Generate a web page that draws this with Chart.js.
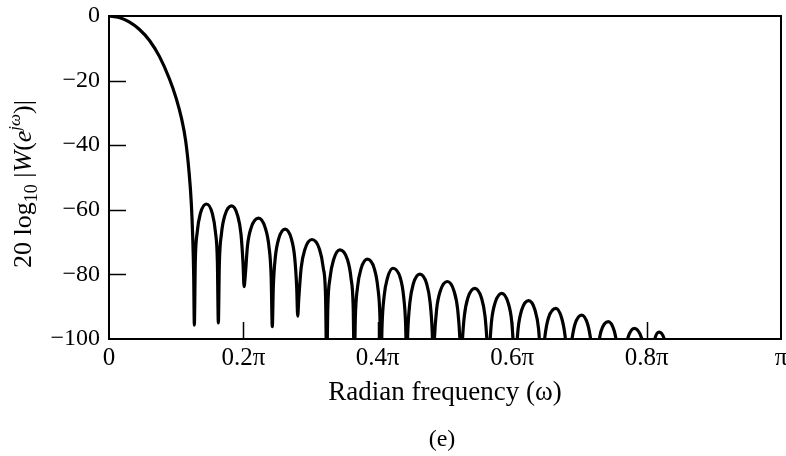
<!DOCTYPE html>
<html>
<head>
<meta charset="utf-8">
<script src="https://cdn.jsdelivr.net/npm/chart.js@4.4.1/dist/chart.umd.min.js"></script>
<style>
  html, body { margin: 0; padding: 0; background: #fff; }
</style>
</head>
<body>
<canvas id="chart" width="786" height="456"></canvas>
<script>
// frequency in units of pi, magnitude in dB (lobe by lobe)
const omega = [
  0, 0.015, 0.03, 0.045, 0.06, 0.075, 0.09, 0.1, 0.108, 0.114, 0.119, 0.1225, 0.1245, 0.126, 0.127,
  0.1284, 0.1313, 0.1359, 0.145, 0.1538, 0.1584, 0.1613, 0.1627,
  0.1642, 0.1673, 0.1723, 0.1825, 0.1914, 0.1964, 0.1995, 0.201,
  0.2027, 0.206, 0.2115, 0.2225, 0.2325, 0.238, 0.2413, 0.243,
  0.2445, 0.2475, 0.2525, 0.262, 0.2714, 0.2763, 0.2793, 0.2808,
  0.2825, 0.286, 0.2916, 0.302, 0.3132, 0.3188, 0.3223, 0.324,
  0.3256, 0.3289, 0.3343, 0.3435, 0.3548, 0.3601, 0.3634, 0.365,
  0.3666, 0.3698, 0.375, 0.3845, 0.3949, 0.4, 0.4032, 0.4048,
  0.4063, 0.4094, 0.4144, 0.4225, 0.4335, 0.4384, 0.4415, 0.443,
  0.4446, 0.4478, 0.4529, 0.4625, 0.4727, 0.4778, 0.481, 0.4826,
  0.4842, 0.4875, 0.4929, 0.5035, 0.5135, 0.5189, 0.5222, 0.5238,
  0.5254, 0.5287, 0.534, 0.5443, 0.5543, 0.5596, 0.5629, 0.5645,
  0.5661, 0.5692, 0.5744, 0.5845, 0.5941, 0.5993, 0.6024, 0.604,
  0.6056, 0.6088, 0.614, 0.6245, 0.634, 0.6392, 0.6424, 0.644,
  0.6487, 0.6539, 0.665, 0.6736, 0.6788, 0.6835,
  0.6881, 0.6932, 0.7034, 0.7125, 0.7176, 0.7222,
  0.727, 0.7322, 0.743, 0.752, 0.7572, 0.762,
  0.7669, 0.7721, 0.7817, 0.7924, 0.7976, 0.8025,
  0.8065, 0.8109, 0.8185, 0.8276, 0.832, 0.836
];
const magDb = [
  0, -0.45, -1.8, -4.1, -7.5, -12.5, -19.5, -25.5, -31.8, -38.5, -48.0, -58.0, -68.0, -80.0, -95.7,
  -76.2, -66.9, -61.2, -58.2, -61.2, -66.9, -76.2, -95.0,
  -76.8, -67.5, -61.8, -58.8, -61.8, -67.5, -76.8, -83.8,
  -80.6, -71.3, -65.6, -62.6, -65.6, -71.3, -80.6, -96.2,
  -84.0, -74.7, -69.0, -66.0, -69.0, -74.7, -84.0, -92.9,
  -87.2, -77.9, -72.2, -69.2, -72.2, -77.9, -87.2, -110,
  -90.4, -81.1, -75.4, -72.4, -75.4, -81.1, -90.4, -110,
  -93.3, -84.0, -78.3, -75.3, -78.3, -84.0, -93.3, -110,
  -96.1, -86.8, -81.1, -78.1, -81.1, -86.8, -96.1, -110,
  -97.9, -88.6, -82.9, -79.9, -82.9, -88.6, -97.9, -110,
  -100.2, -90.9, -85.2, -82.2, -85.2, -90.9, -100.2, -110,
  -102.3, -93.0, -87.3, -84.3, -87.3, -93.0, -102.3, -110,
  -103.9, -94.6, -88.9, -85.9, -88.9, -94.6, -103.9, -110,
  -106.1, -96.8, -91.1, -88.1, -91.1, -96.8, -106.1, -110,
  -99.2, -93.5, -90.5, -93.5, -99.2, -110,
  -101.3, -95.6, -92.6, -95.6, -101.3, -110,
  -103.3, -97.6, -94.6, -97.6, -103.3, -110,
  -105.4, -99.7, -96.7, -99.7, -105.4, -110,
  -106.6, -100.9, -97.9, -100.9, -106.6, -110
];

const xTickValues = [0, 0.2, 0.4, 0.6, 0.8, 1];
const xTickLabels = ['0', '0.2\u03c0', '0.4\u03c0', '0.6\u03c0', '0.8\u03c0', '\u03c0'];
const yTickValues = [0, -20, -40, -60, -80, -100];
const yTickLabels = ['0', '\u221220', '\u221240', '\u221260', '\u221280', '\u2212100'];
const xTitle = 'Radian frequency (\u03c9)';
const panelLabel = '(e)';

const serif = '"Liberation Serif", "DejaVu Serif", serif';

// box, inward ticks, y title with sub/superscripts, panel label
const extras = {
  id: 'extras',
  afterDatasetsDraw(chart) {
    const { ctx, chartArea: a, scales: { x, y } } = chart;
    ctx.save();
    ctx.strokeStyle = '#000';
    ctx.lineWidth = 2;
    ctx.strokeRect(a.left, a.top, a.right - a.left, a.bottom - a.top);

    ctx.lineWidth = 1.5;
    ctx.beginPath();
    yTickValues.forEach(v => {
      if (v < 0 && v > -100) {
        const py = Math.round(y.getPixelForValue(v)) + 0.5;
        ctx.moveTo(a.left, py);
        ctx.lineTo(a.left + 17, py);
      }
    });
    xTickValues.forEach(v => {
      if (v > 0 && v < 1) {
        const px = Math.round(x.getPixelForValue(v)) + 0.5;
        ctx.moveTo(px, a.bottom);
        ctx.lineTo(px, a.bottom - 17);
      }
    });
    ctx.stroke();

    ctx.fillStyle = '#000';
    ctx.font = '24px ' + serif;
    ctx.textAlign = 'center';
    ctx.textBaseline = 'middle';
    ctx.fillText(panelLabel, 442, 440);

    // y axis title
    const parts = [
      { t: '20 log', f: '26px ' + serif, dy: 0 },
      { t: '10', f: '18px ' + serif, dy: 6 },
      { t: ' |', f: '26px ' + serif, dy: 0 },
      { t: 'W', f: 'italic 26px ' + serif, dy: 0 },
      { t: '(', f: '26px ' + serif, dy: 0 },
      { t: 'e', f: 'italic 26px ' + serif, dy: 0 },
      { t: 'j\u03c9', f: 'italic 17px ' + serif, dy: -11 },
      { t: ')|', f: '26px ' + serif, dy: 0 }
    ];
    let total = 0;
    parts.forEach(p => { ctx.font = p.f; p.w = ctx.measureText(p.t).width; total += p.w; });
    ctx.translate(31, 184);
    ctx.rotate(-Math.PI / 2);
    ctx.textAlign = 'left';
    ctx.textBaseline = 'alphabetic';
    let cx = -total / 2;
    parts.forEach(p => {
      ctx.font = p.f;
      ctx.fillText(p.t, cx, p.dy);
      cx += p.w;
    });
    ctx.restore();
  }
};

new Chart(document.getElementById('chart'), {
  type: 'line',
  data: {
    datasets: [{
      data: omega.map((w, i) => ({ x: w, y: magDb[i] })),
      borderColor: '#000',
      borderWidth: 3.2,
      pointRadius: 0,
      cubicInterpolationMode: 'monotone',
      fill: false
    }]
  },
  options: {
    responsive: false,
    animation: false,
    layout: { padding: { top: 16, right: 5, left: 0, bottom: 0 } },
    plugins: { legend: { display: false }, tooltip: { enabled: false } },
    scales: {
      x: {
        type: 'linear',
        min: 0,
        max: 1,
        afterBuildTicks: s => { s.ticks = xTickValues.map(v => ({ value: v })); },
        afterFit: s => { s.height = 117; s.paddingLeft = 0; s.paddingRight = 0; },
        grid: { display: false, drawTicks: false },
        border: { display: false },
        ticks: {
          color: '#000',
          padding: 4,
          maxRotation: 0,
          autoSkip: false,
          font: { family: serif, size: 25 },
          callback: v => xTickLabels[xTickValues.indexOf(v)]
        },
        title: {
          display: true,
          text: xTitle,
          color: '#000',
          font: { family: serif, size: 27 },
          padding: { top: 0, bottom: 47 }
        }
      },
      y: {
        min: -100,
        max: 0,
        afterBuildTicks: s => { s.ticks = yTickValues.map(v => ({ value: v })); },
        afterFit: s => { s.width = 109; s.paddingTop = 0; s.paddingBottom = 0; },
        grid: { display: false, drawTicks: false },
        border: { display: false },
        ticks: {
          color: '#000',
          padding: 9,
          autoSkip: false,
          font: { family: serif, size: 24 },
          callback: v => yTickLabels[yTickValues.indexOf(v)]
        }
      }
    }
  },
  plugins: [extras]
});
</script>
</body>
</html>
